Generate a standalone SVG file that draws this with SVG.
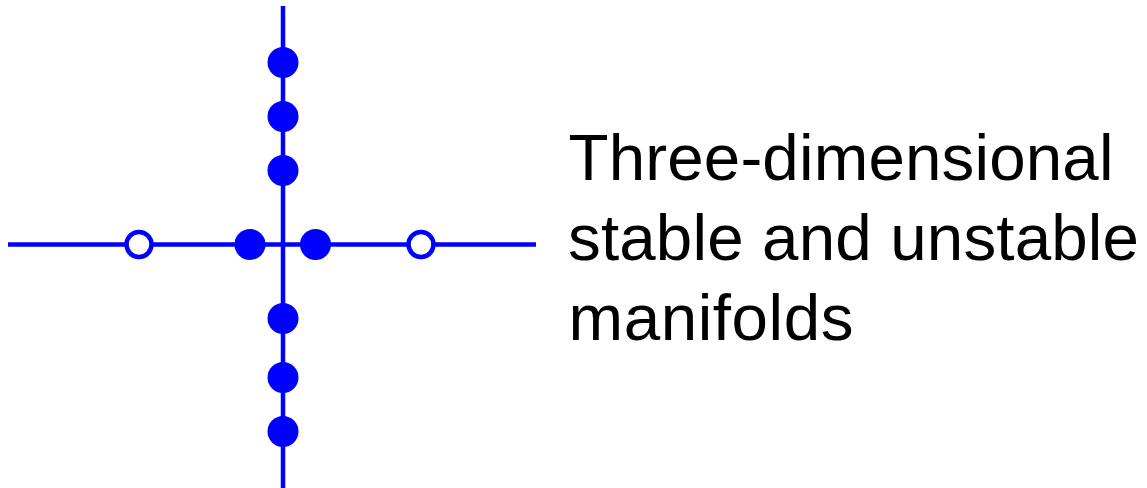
<svg xmlns="http://www.w3.org/2000/svg" width="1147" height="488" viewBox="0 0 1147 488">
<style>
.ax{stroke:#0000ff;stroke-width:4.5;fill:none}
.f{fill:#0000ff}
.o{fill:#fff;stroke:#0000ff;stroke-width:4.5}
.t{font-family:"Liberation Sans",Arial,sans-serif;font-size:65.5px;fill:#000}
</style>
<g id="connectors">
<line class="ax" x1="283" y1="6" x2="283" y2="488"/>
<line class="ax" x1="8" y1="244.5" x2="536" y2="244.5"/>
</g>
<g id="s1"><circle class="f" cx="283" cy="62.5" r="15.5"/></g>
<g id="s2"><circle class="f" cx="283" cy="116.5" r="15.5"/></g>
<g id="s3"><circle class="f" cx="283" cy="170.5" r="15.5"/></g>
<g id="s4"><circle class="f" cx="283" cy="318.5" r="15.5"/></g>
<g id="s5"><circle class="f" cx="283" cy="377.5" r="15.5"/></g>
<g id="s6"><circle class="f" cx="283" cy="431.5" r="15.5"/></g>
<g id="s7"><circle class="f" cx="250" cy="244.5" r="15.5"/></g>
<g id="s8"><circle class="f" cx="315.5" cy="244.5" r="15.5"/></g>
<g id="u1"><circle class="o" cx="139" cy="244.5" r="12.5"/></g>
<g id="u2"><circle class="o" cx="421" cy="244.5" r="12.5"/></g>
<g id="label">
<text class="t" x="568.5" y="180" textLength="545" lengthAdjust="spacing">Three-dimensional</text>
<text class="t" x="568" y="260" textLength="571" lengthAdjust="spacing">stable and unstable</text>
<text class="t" x="568.5" y="340" textLength="285" lengthAdjust="spacing">manifolds</text>
</g>
</svg>
